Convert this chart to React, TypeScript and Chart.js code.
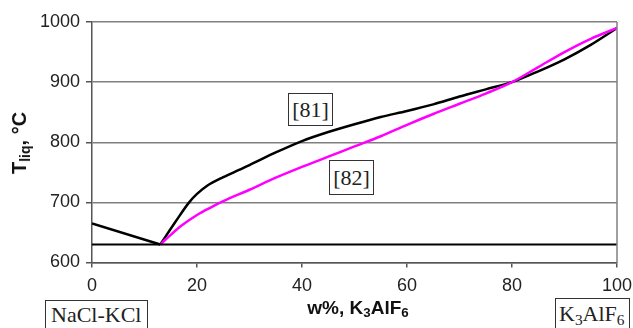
import React, { useEffect, useRef } from "react";
import { Chart, registerables } from "chart.js";

Chart.register(...registerables);

const xTicks = [0, 20, 40, 60, 80, 100];
const yTicks = [600, 700, 800, 900, 1000];

const eutecticX = [0, 100];
const eutecticT = [630, 630];

const leftBranchX = [0, 13];
const leftBranchT = [665, 630];

const ref81X = [13, 16, 18.5, 20, 22, 25, 28, 30, 35, 40, 45, 50, 55, 60, 65, 70, 75, 80, 85, 90, 95, 100];
const ref81T = [630, 669, 700, 714, 728, 742, 754, 762, 783, 802, 817, 830, 842, 852, 863, 876, 888, 900, 918, 938, 962, 990];

const ref82X = [13, 15, 17, 20, 22.5, 25, 30, 35, 40, 45, 50, 55, 60, 65, 70, 75, 80, 85, 90, 95, 100];
const ref82T = [630, 646, 661, 679, 691, 702, 721, 741, 759, 776, 793, 810, 829, 847, 864, 881, 900, 925, 950, 972, 990];

const toPts = (xs: number[], ys: number[]) => xs.map((x, i) => ({ x, y: ys[i] }));

const frame = {
  id: "frame",
  afterDraw(chart: any) {
    const { ctx, chartArea } = chart;
    ctx.save();
    ctx.strokeStyle = "#808080";
    ctx.lineWidth = 1.5;
    ctx.beginPath();
    ctx.moveTo(chartArea.right, chartArea.top);
    ctx.lineTo(chartArea.right, chartArea.bottom);
    ctx.stroke();
    ctx.restore();
  },
};

export default function App() {
  const ref = useRef<HTMLCanvasElement | null>(null);

  useEffect(() => {
    if (!ref.current) return;
    const chart = new Chart(ref.current, {
      type: "line",
      data: {
        datasets: [
          {
            data: toPts(eutecticX, eutecticT),
            borderColor: "#000",
            borderWidth: 2,
            pointRadius: 0,
            tension: 0,
          },
          {
            data: toPts(leftBranchX, leftBranchT),
            borderColor: "#000",
            borderWidth: 2.5,
            pointRadius: 0,
            tension: 0,
          },
          {
            data: toPts(ref82X, ref82T),
            borderColor: "#ff00ff",
            borderWidth: 2.5,
            pointRadius: 0,
            cubicInterpolationMode: "monotone",
          },
          {
            data: toPts(ref81X, ref81T),
            borderColor: "#000",
            borderWidth: 2.5,
            pointRadius: 0,
            cubicInterpolationMode: "monotone",
          },
        ],
      },
      options: {
        animation: false,
        responsive: false,
        maintainAspectRatio: false,
        layout: { padding: { top: 22, right: 16, left: 0, bottom: 0 } },
        plugins: { legend: { display: false }, tooltip: { enabled: false } },
        scales: {
          x: {
            type: "linear",
            min: 0,
            max: 100,
            afterBuildTicks: (s: any) => {
              s.ticks = xTicks.map((v) => ({ value: v }));
            },
            afterFit: (s: any) => {
              s.height = 65.5;
              s.paddingRight = 0;
              s.paddingLeft = 0;
            },
            ticks: {
              color: "#222",
              font: { family: "Liberation Sans, Arial", size: 18 },
              padding: 8,
              maxRotation: 0,
              callback: (v: any) => String(v),
            },
            grid: {
              drawOnChartArea: false,
              drawTicks: true,
              tickLength: 5,
              tickColor: "#555",
              lineWidth: 1.5,
            },
            border: { display: true, color: "#555", width: 1.5 },
          },
          y: {
            min: 600,
            max: 1000,
            afterBuildTicks: (s: any) => {
              s.ticks = yTicks.map((v) => ({ value: v }));
            },
            afterFit: (s: any) => {
              s.width = 92;
              s.paddingTop = 0;
              s.paddingBottom = 0;
            },
            ticks: {
              color: "#222",
              font: { family: "Liberation Sans, Arial", size: 18 },
              padding: 6,
              callback: (v: any) => String(v),
            },
            grid: {
              color: "#808080",
              lineWidth: 1.5,
              drawTicks: true,
              tickLength: 6,
              tickColor: "#555",
            },
            border: { display: true, color: "#555", width: 1.5 },
          },
        },
      },
      plugins: [frame],
    } as any);
    return () => chart.destroy();
  }, []);

  const serif = "'Liberation Serif', 'Times New Roman', serif";
  const sans = "'Liberation Sans', Arial, sans-serif";
  const boxStyle: React.CSSProperties = {
    position: "absolute",
    border: "1px solid #333",
    fontFamily: serif,
    fontSize: 22,
    color: "#222",
    boxSizing: "border-box",
    whiteSpace: "nowrap",
    background: "#fff",
  };
  const subStyle: React.CSSProperties = { fontSize: "0.7em", lineHeight: 0, verticalAlign: "-0.25em", color: "inherit" };

  return (
    <div style={{ position: "fixed", left: 0, top: 0, width: 633, height: 328, overflow: "hidden", background: "#fff" }}>
      <canvas ref={ref} width={633} height={328} style={{ position: "absolute", left: 0, top: 0, width: 633, height: 328 }} />
      <div
        style={{
          position: "absolute",
          left: 19,
          top: 143,
          transform: "translate(-50%, -50%) rotate(-90deg)",
          fontFamily: sans,
          fontWeight: "bold",
          fontSize: 20,
          lineHeight: "20px",
          whiteSpace: "nowrap",
          color: "#111",
        }}
      >
        T<span style={subStyle}>liq</span>, °C
      </div>
      <div
        style={{
          position: "absolute",
          left: 358,
          top: 298,
          transform: "translateX(-50%)",
          fontFamily: sans,
          fontWeight: "bold",
          fontSize: 19,
          lineHeight: "19px",
          whiteSpace: "nowrap",
          color: "#111",
        }}
      >
        w%, K<span style={subStyle}>3</span>AlF<span style={subStyle}>6</span>
      </div>
      <div style={{ ...boxStyle, left: 288, top: 93, width: 45, height: 33, lineHeight: "31px", textAlign: "center" }}>[81]</div>
      <div style={{ ...boxStyle, left: 329, top: 160, width: 45, height: 35, lineHeight: "33px", textAlign: "center" }}>[82]</div>
      <div style={{ ...boxStyle, left: 45, top: 300, width: 103, height: 40, lineHeight: "28px", paddingLeft: 5 }}>NaCl-KCl</div>
      <div style={{ ...boxStyle, left: 555, top: 298, width: 75, height: 40, lineHeight: "30px", paddingLeft: 3 }}>
        K<span style={subStyle}>3</span>AlF<span style={subStyle}>6</span>
      </div>
    </div>
  );
}
